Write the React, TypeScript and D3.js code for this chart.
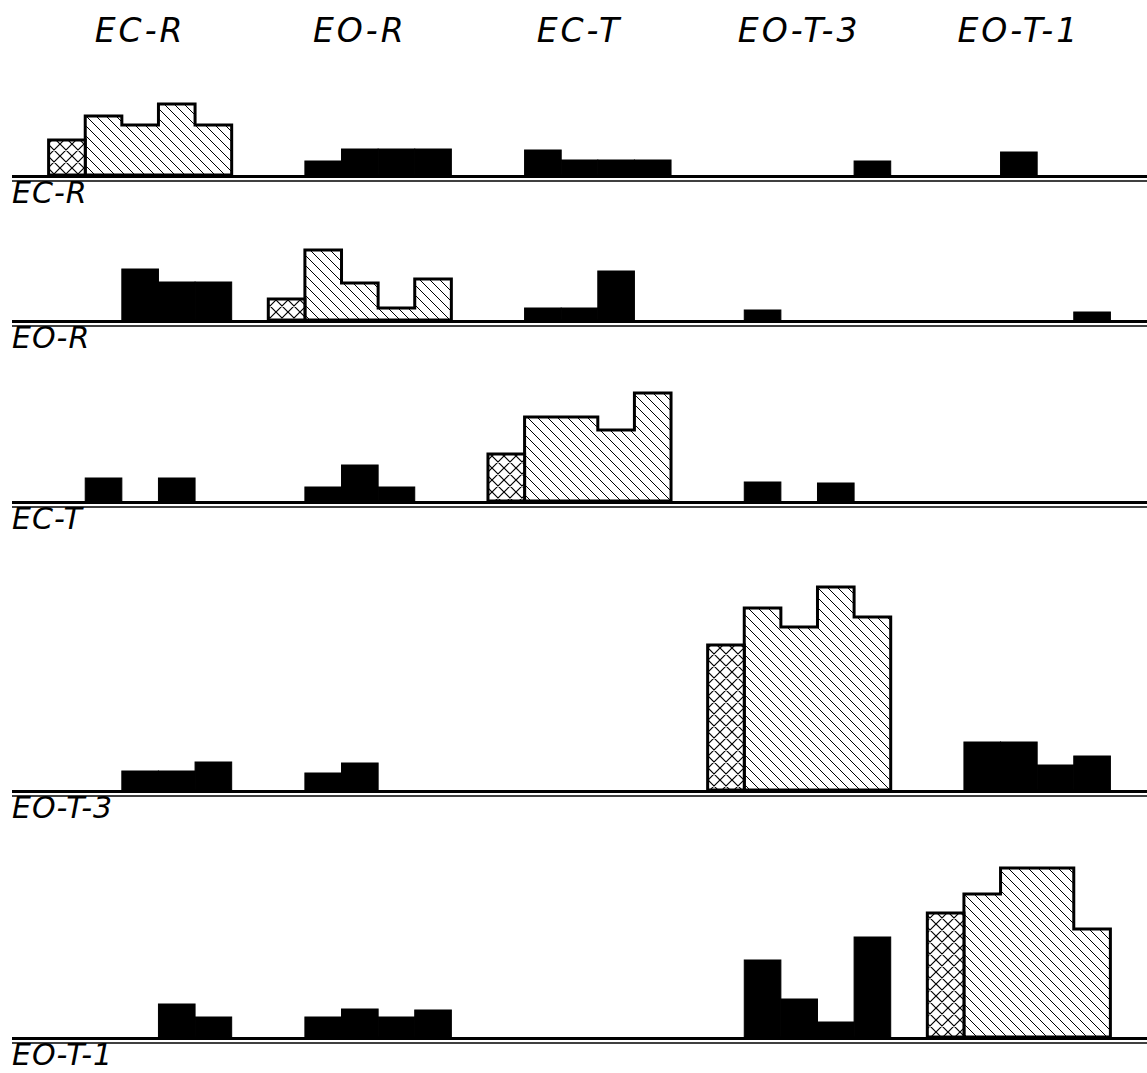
import React, { useEffect, useRef } from "react";
import * as d3 from "d3";

// column groups (also the row names)
const groups = ["EC-R", "EO-R", "EC-T", "EO-T-3", "EO-T-1"];

// bar heights per row: 5 groups x 5 classes
const ecR = [
  [35, 59, 50, 71, 50],
  [0, 14, 26, 26, 26],
  [0, 25, 15, 15, 15],
  [0, 0, 0, 0, 14],
  [0, 0, 23, 0, 0],
];
const eoR = [
  [0, 0, 51, 38, 38],
  [21, 70, 37, 12, 41],
  [0, 12, 12, 49, 0],
  [0, 10, 0, 0, 0],
  [0, 0, 0, 0, 8],
];
const ecT = [
  [0, 23, 0, 23, 0],
  [0, 14, 36, 14, 0],
  [47, 84, 84, 71, 108],
  [0, 19, 0, 18, 0],
  [0, 0, 0, 0, 0],
];
const eoT3 = [
  [0, 0, 19, 19, 28],
  [0, 17, 27, 0, 0],
  [0, 0, 0, 0, 0],
  [145, 182, 163, 203, 173],
  [0, 48, 48, 25, 34],
];
const eoT1 = [
  [0, 0, 0, 33, 20],
  [0, 20, 28, 20, 27],
  [0, 0, 0, 0, 0],
  [0, 77, 38, 15, 100],
  [124, 143, 169, 169, 108],
];

const rows = [ecR, eoR, ecT, eoT3, eoT1];

// layout
const W = 1147;
const H = 1073;
const baselines = [175, 320, 501, 790, 1037];
const font = "'DejaVu Sans', sans-serif";

function Chart() {
  const ref = useRef(null);

  useEffect(() => {
    const svg = d3.select(ref.current);
    svg.selectAll("*").remove();

    // 31 class slots: each group takes 5, with an empty slot between
    const x = d3.scaleLinear().domain([0, 31]).range([12, W]);
    const y = d3.scaleLinear().domain([0, 100]).range([0, 100]);

    const defs = svg.append("defs");
    const hatch = defs
      .append("pattern")
      .attr("id", "hatch")
      .attr("patternUnits", "userSpaceOnUse")
      .attr("width", 10)
      .attr("height", 10);
    hatch.append("rect").attr("width", 10).attr("height", 10).attr("fill", "white");
    hatch
      .append("path")
      .attr("d", "M0,0L10,10M-2,8L2,12M8,-2L12,2")
      .attr("stroke", "black")
      .attr("stroke-width", 1);

    const cross = defs
      .append("pattern")
      .attr("id", "cross")
      .attr("patternUnits", "userSpaceOnUse")
      .attr("width", 12)
      .attr("height", 12);
    cross.append("rect").attr("width", 12).attr("height", 12).attr("fill", "white");
    cross
      .append("path")
      .attr("d", "M0,0L12,12M-2,10L2,14M10,-2L14,2M0,12L12,0M-2,2L2,-2M10,14L14,10")
      .attr("stroke", "black")
      .attr("stroke-width", 1.2);

    // column headings
    svg
      .append("g")
      .selectAll("text")
      .data(groups)
      .join("text")
      .attr("x", (d, i) => x(1 + 6 * i + 2.5))
      .attr("y", 42)
      .attr("text-anchor", "middle")
      .attr("font-family", font)
      .attr("font-style", "italic")
      .attr("font-size", 33)
      .attr("letter-spacing", 3)
      .text((d) => d);

    rows.forEach((row, r) => {
      const base = baselines[r];
      const g = svg.append("g");

      // double base line
      g.append("line")
        .attr("x1", x(0))
        .attr("x2", W)
        .attr("y1", base + 1.5)
        .attr("y2", base + 1.5)
        .attr("stroke", "black")
        .attr("stroke-width", 3);
      g.append("line")
        .attr("x1", x(0))
        .attr("x2", W)
        .attr("y1", base + 6)
        .attr("y2", base + 6)
        .attr("stroke", "black")
        .attr("stroke-width", 1.5);

      row.forEach((vals, gi) => {
        const start = 1 + 6 * gi;
        if (gi === r) {
          // own group: first class cross-hatched, the rest hatched
          const area = d3
            .area()
            .x((d) => x(d.bin))
            .y0(base)
            .y1((d) => base - y(d.v))
            .curve(d3.curveStepAfter);
          const pts = vals.slice(1).map((v, j) => ({ bin: start + 1 + j, v }));
          pts.push({ bin: start + 5, v: vals[4] });
          g.append("path")
            .attr("d", area(pts))
            .attr("fill", "url(#hatch)")
            .attr("stroke", "black")
            .attr("stroke-width", 3);
          g.append("rect")
            .attr("x", x(start))
            .attr("y", base - y(vals[0]))
            .attr("width", x(start + 1) - x(start))
            .attr("height", y(vals[0]))
            .attr("fill", "url(#cross)")
            .attr("stroke", "black")
            .attr("stroke-width", 3);
        } else {
          g.selectAll(null)
            .data(vals.map((v, j) => ({ bin: start + j, v })).filter((d) => d.v > 0))
            .join("rect")
            .attr("x", (d) => x(d.bin))
            .attr("y", (d) => base - y(d.v))
            .attr("width", (d) => x(d.bin + 1) - x(d.bin))
            .attr("height", (d) => y(d.v))
            .attr("fill", "black")
            .attr("stroke", "black")
            .attr("stroke-width", 1);
        }
      });

      g.append("text")
        .attr("x", 12)
        .attr("y", base + 28)
        .attr("font-family", font)
        .attr("font-style", "italic")
        .attr("font-size", 30)
        .attr("letter-spacing", 1)
        .text(groups[r]);
    });
  }, []);

  return (
    <svg
      ref={ref}
      width={W}
      height={H}
      style={{ position: "absolute", left: 0, top: 0, background: "white" }}
    />
  );
}

export default function App() {
  return <Chart />;
}
